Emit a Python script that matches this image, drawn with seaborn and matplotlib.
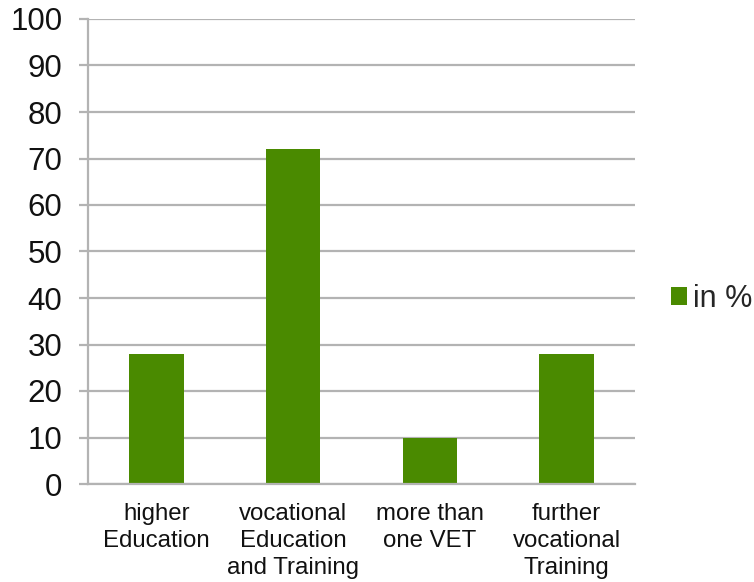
import matplotlib
matplotlib.use('Agg')
from matplotlib import pyplot as plt
import matplotlib.ticker as mtick
import seaborn as sns
import pandas as pd

categories = ['higher\nEducation', 'vocational\nEducation\nand Training',
              'more than\none VET', 'further\nvocational\nTraining']
values = [28, 72, 10, 28]
series_name = 'in %'

BAR_COLOR = '#4a8a00'
GRID_COLOR = '#b3b3b3'

sns.set_theme(style='white')
plt.rcParams['font.family'] = ['Liberation Sans', 'DejaVu Sans']

df = pd.DataFrame({'category': categories, 'value': values})

fig = plt.figure(figsize=(7.54, 5.82), dpi=100)
ax = fig.add_axes([88 / 754, 1 - 484 / 582, (635 - 88) / 754, (484 - 19) / 582])
sns.barplot(ax=ax, data=df, x='category', y='value', color=BAR_COLOR,
            width=0.4, saturation=1, label=series_name, edgecolor='none')

ax.set_ylim(0, 100)
ax.set_xlim(-0.5, len(categories) - 0.5)
ax.yaxis.set_major_locator(mtick.MultipleLocator(10))
ax.yaxis.grid(True, color=GRID_COLOR, linewidth=1.6)
ax.set_axisbelow(True)
ax.set_xlabel('')
ax.set_ylabel('')

for side in ('top', 'right'):
    ax.spines[side].set_visible(False)
for side in ('left', 'bottom'):
    ax.spines[side].set_color(GRID_COLOR)
    ax.spines[side].set_linewidth(1.6)

ax.set_xticks(range(len(categories)))
ax.set_xticklabels(categories, fontsize=17.3, color='#111111', linespacing=1.28)
ax.set_xticks([i - 0.5 for i in range(len(categories) + 1)], minor=True)
ax.tick_params(axis='x', which='major', length=0, pad=14)
ax.tick_params(axis='x', which='minor', length=6, width=1.6, color=GRID_COLOR, direction='out')
ax.tick_params(axis='y', labelsize=22.5, length=6.5, width=1.6, color=GRID_COLOR,
               direction='out', left=True, pad=12, labelcolor='#111111')

if ax.get_legend():
    ax.get_legend().remove()
handles, labels = ax.get_legend_handles_labels()
fig.legend(handles, labels, loc='center left', bbox_to_anchor=(0.888, 0.487),
           frameon=False, fontsize=22, handlelength=0.55, handleheight=0.55,
           handletextpad=0.2, borderpad=0)
fig.legends[0].set_bbox_to_anchor((0.869, 0.487), transform=fig.transFigure)

fig.savefig('out.png', dpi=100)
